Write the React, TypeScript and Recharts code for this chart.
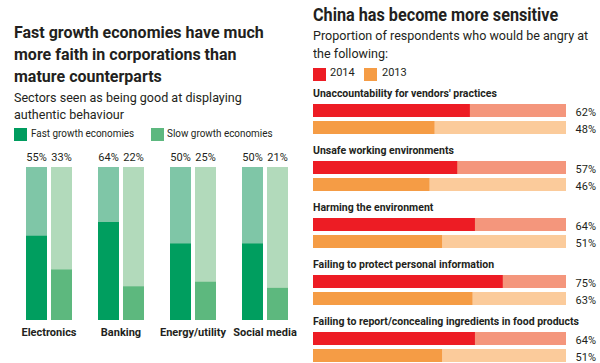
import React from "react";
import { BarChart, Bar, XAxis, YAxis, LabelList } from "recharts";

// left panel
const sectors = ["Electronics", "Banking", "Energy/utility", "Social media"];
const fastGrowth = [55, 64, 50, 50];
const slowGrowth = [33, 22, 25, 21];

// right panel
const issues = [
  "Unaccountability for vendors' practices",
  "Unsafe working environments",
  "Harming the environment",
  "Failing to protect personal information",
  "Failing to report/concealing ingredients in food products",
];
const angry2014 = [62, 57, 64, 75, 64];
const angry2013 = [48, 46, 51, 63, 51];

const sectorData = sectors.map((name, i) => ({ name, fast: fastGrowth[i], slow: slowGrowth[i] }));
const issueData = issues.map((name, i) => ({ name, y2014: angry2014[i], y2013: angry2013[i] }));

const FONT = "Roboto, 'Liberation Sans', sans-serif";
const INK = "#231f20";

const LEFT_TOP = 167;
const RIGHT_W = 300;
const RIGHT_MARGIN = { top: 90, right: 34, bottom: 5, left: 13 };
const RIGHT_PLOT_END = RIGHT_W - RIGHT_MARGIN.right;

const box = (p: any) => {
  const v = p.viewBox && p.viewBox.width !== undefined ? p.viewBox : p;
  return { x: Number(v.x), y: Number(v.y), width: Number(v.width), height: Number(v.height) };
};

const TopValue = (p: any) => {
  const b = box(p);
  return (
    <text x={b.x + b.width / 2} y={LEFT_TOP - 6} textAnchor="middle" fontSize={11} fill={INK} fontFamily={FONT}>
      {p.value}%
    </text>
  );
};

const RightValue = (p: any) => {
  const b = box(p);
  return (
    <text x={RIGHT_PLOT_END + 30} y={b.y + b.height / 2 + 5} textAnchor="end" fontSize={11} fill={INK} fontFamily={FONT}>
      {p.value}%
    </text>
  );
};

const IssueName = (p: any) => {
  const b = box(p);
  return (
    <text x={b.x} y={b.y - 7} fontSize={10.5} fontWeight={700} fill={INK} fontFamily={FONT}>
      {p.value}
    </text>
  );
};

type TxtProps = {
  left: number;
  top: number;
  size: number;
  lh: number;
  bold?: boolean;
  sx?: number;
  children: React.ReactNode;
};

const Txt = ({ left, top, size, lh, bold, sx = 1, children }: TxtProps) => (
  <div
    style={{
      position: "absolute",
      left,
      top,
      fontFamily: FONT,
      fontSize: size,
      lineHeight: `${lh}px`,
      fontWeight: bold ? 700 : 400,
      color: INK,
      whiteSpace: "nowrap",
      transform: `scaleX(${sx})`,
      transformOrigin: "0 0",
    }}
  >
    {children}
  </div>
);

const Swatch = ({ left, top, color }: { left: number; top: number; color: string }) => (
  <div style={{ position: "absolute", left, top, width: 13, height: 13, background: color }} />
);

export default function App() {
  return (
    <div style={{ position: "absolute", left: 0, top: 0, width: 600, height: 363, overflow: "hidden", background: "#fff" }}>
      <Txt left={14} top={21.5} size={16.5} lh={22} bold sx={0.97}>
        Fast growth economies have much
        <br />
        more faith in corporations than
        <br />
        mature counterparts
      </Txt>
      <Txt left={14} top={89} size={13.5} lh={17} sx={0.93}>
        Sectors seen as being good at displaying
        <br />
        authentic behaviour
      </Txt>
      <Swatch left={14} top={128} color="#009c5f" />
      <Txt left={31} top={126.5} size={11} lh={14} sx={0.9}>
        Fast growth economies
      </Txt>
      <Swatch left={151} top={128} color="#5db87f" />
      <Txt left={167} top={126.5} size={11} lh={14} sx={0.9}>
        Slow growth economies
      </Txt>

      <div style={{ position: "absolute", left: 0, top: 0 }}>
        <BarChart
          width={310}
          height={363}
          data={sectorData}
          margin={{ top: LEFT_TOP, right: 9, bottom: 13, left: 13 }}
          barCategoryGap={13}
          barGap={4}
        >
          <XAxis
            dataKey="name"
            axisLine={false}
            tickLine={false}
            height={30}
            interval={0}
            tick={{ fill: INK, fontSize: 11, fontWeight: 700, fontFamily: FONT }}
          />
          <YAxis hide domain={[0, 100]} />
          <Bar dataKey="fast" fill="#009e5f" background={{ fill: "#7fc6a7" }} isAnimationActive={false}>
            <LabelList dataKey="fast" content={TopValue} />
          </Bar>
          <Bar dataKey="slow" fill="#5db87e" background={{ fill: "#b2dabb" }} isAnimationActive={false}>
            <LabelList dataKey="slow" content={TopValue} />
          </Bar>
        </BarChart>
      </div>

      <Txt left={313} top={2.5} size={18} lh={24} bold sx={0.9}>
        China has become more sensitive
      </Txt>
      <Txt left={313} top={26} size={13.5} lh={18} sx={0.93}>
        Proportion of respondents who would be angry at
        <br />
        the following:
      </Txt>
      <Swatch left={313} top={68} color="#ed1c24" />
      <Txt left={330} top={66} size={11} lh={14}>
        2014
      </Txt>
      <Swatch left={364} top={68} color="#f59c45" />
      <Txt left={382} top={66} size={11} lh={14}>
        2013
      </Txt>

      <div style={{ position: "absolute", left: 300, top: 0 }}>
        <BarChart
          layout="vertical"
          width={RIGHT_W}
          height={380}
          data={issueData}
          margin={RIGHT_MARGIN}
          barSize={13}
          barGap={4}
        >
          <XAxis type="number" hide domain={[0, 100]} />
          <YAxis type="category" dataKey="name" hide />
          <Bar dataKey="y2014" fill="#ed1c24" background={{ fill: "#f4967c" }} isAnimationActive={false}>
            <LabelList dataKey="name" content={IssueName} />
            <LabelList dataKey="y2014" content={RightValue} />
          </Bar>
          <Bar dataKey="y2013" fill="#f59c45" background={{ fill: "#fbcb9b" }} isAnimationActive={false}>
            <LabelList dataKey="y2013" content={RightValue} />
          </Bar>
        </BarChart>
      </div>
    </div>
  );
}
